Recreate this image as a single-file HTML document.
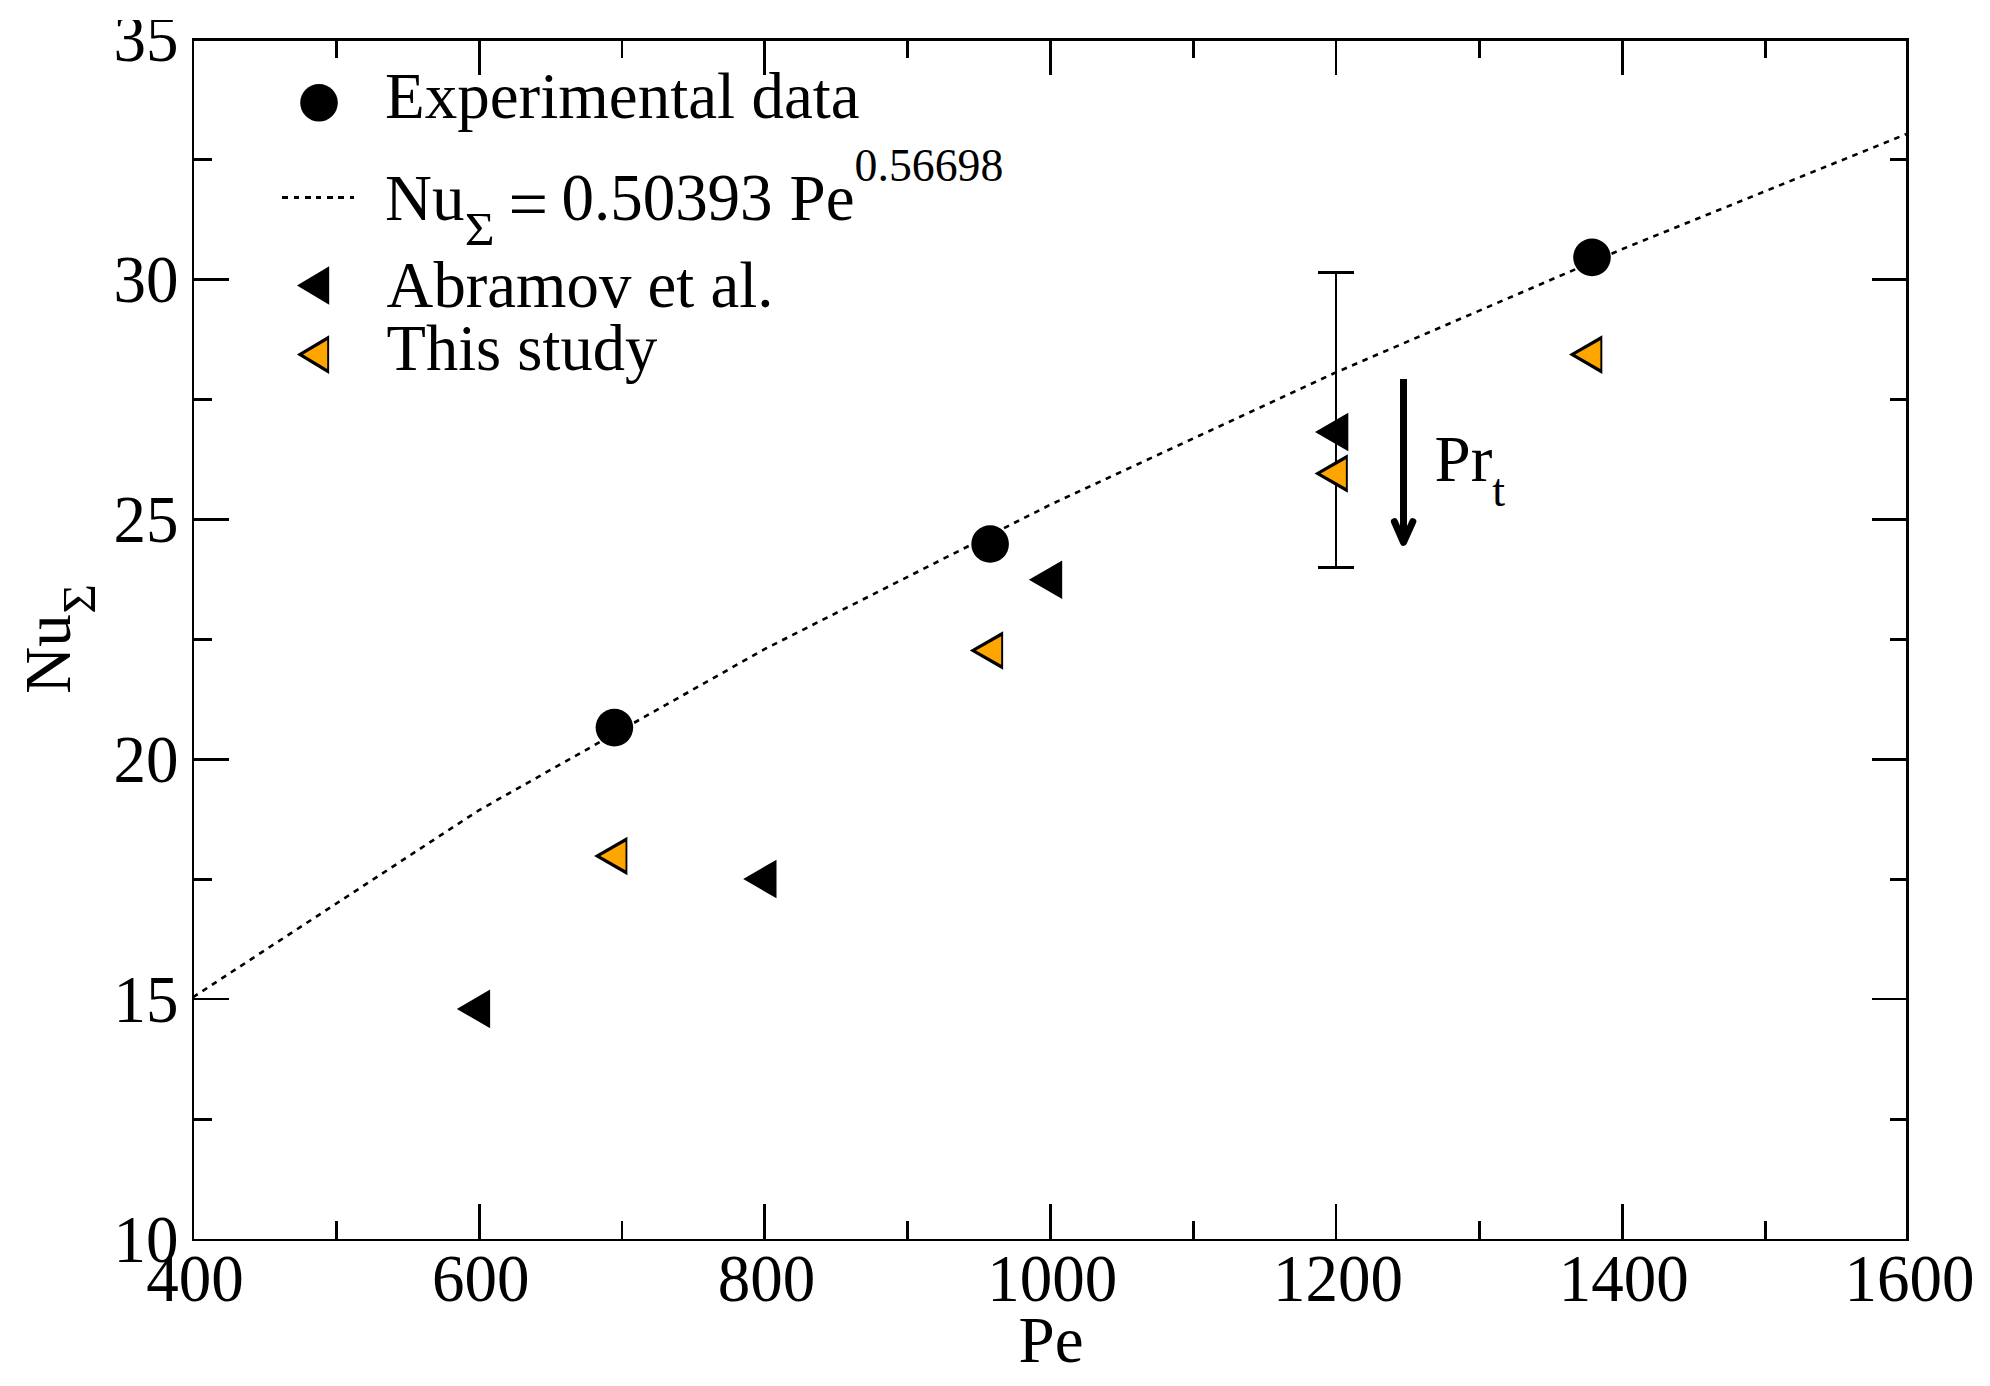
<!DOCTYPE html>
<html lang="en"><head><meta charset="utf-8"><title>Nu vs Pe</title>
<style>html,body{margin:0;padding:0;background:#fff}svg{display:block}text{font-family:"Liberation Serif", "DejaVu Serif", serif;fill:#000}</style>
</head><body>
<svg width="1990" height="1386" viewBox="0 0 1990 1386">
<rect x="0" y="0" width="1990" height="1386" fill="#fff"/>
<path d="M193.00 997.25 L478.75 810.39 L764.50 649.21 L1050.25 504.76 L1336.00 372.40 L1621.75 249.30 L1907.50 133.61" fill="none" stroke="#000" stroke-width="2.6" stroke-dasharray="5.6 5.7"/>
<g fill="#000" shape-rendering="crispEdges">
<rect x="192" y="38" width="2" height="1203"/>
<rect x="1906" y="38" width="3" height="1203"/>
<rect x="192" y="38" width="1717" height="3"/>
<rect x="192" y="1239" width="1717" height="2"/>
<rect x="335" y="1221" width="3" height="19"/>
<rect x="335" y="40" width="3" height="18"/>
<rect x="478" y="1204" width="3" height="36"/>
<rect x="478" y="40" width="3" height="35"/>
<rect x="621" y="1221" width="2" height="19"/>
<rect x="621" y="40" width="2" height="18"/>
<rect x="763" y="1204" width="3" height="36"/>
<rect x="763" y="40" width="3" height="35"/>
<rect x="906" y="1221" width="3" height="19"/>
<rect x="906" y="40" width="3" height="18"/>
<rect x="1049" y="1204" width="3" height="36"/>
<rect x="1049" y="40" width="3" height="35"/>
<rect x="1192" y="1221" width="3" height="19"/>
<rect x="1192" y="40" width="3" height="18"/>
<rect x="1335" y="1204" width="2" height="36"/>
<rect x="1335" y="40" width="2" height="35"/>
<rect x="1478" y="1221" width="3" height="19"/>
<rect x="1478" y="40" width="3" height="18"/>
<rect x="1621" y="1204" width="3" height="36"/>
<rect x="1621" y="40" width="3" height="35"/>
<rect x="1764" y="1221" width="3" height="19"/>
<rect x="1764" y="40" width="3" height="18"/>
<rect x="193" y="1118" width="19" height="3"/>
<rect x="1890" y="1118" width="17" height="3"/>
<rect x="193" y="998" width="36" height="2"/>
<rect x="1872" y="998" width="35" height="2"/>
<rect x="193" y="878" width="19" height="3"/>
<rect x="1890" y="878" width="17" height="3"/>
<rect x="193" y="758" width="36" height="3"/>
<rect x="1872" y="758" width="35" height="3"/>
<rect x="193" y="638" width="19" height="3"/>
<rect x="1890" y="638" width="17" height="3"/>
<rect x="193" y="518" width="36" height="3"/>
<rect x="1872" y="518" width="35" height="3"/>
<rect x="193" y="398" width="19" height="3"/>
<rect x="1890" y="398" width="17" height="3"/>
<rect x="193" y="278" width="36" height="3"/>
<rect x="1872" y="278" width="35" height="3"/>
<rect x="193" y="158" width="19" height="3"/>
<rect x="1890" y="158" width="17" height="3"/>
</g>
<g fill="#000" shape-rendering="crispEdges">
<rect x="1335" y="272" width="2" height="296"/>
<rect x="1318" y="271" width="36" height="3"/>
<rect x="1318" y="566" width="36" height="3"/>
</g>
<g>
<polygon points="456.80,1008.90 490.10,989.60 490.10,1028.20" fill="#000"/>
<polygon points="743.20,879.00 776.50,859.70 776.50,898.30" fill="#000"/>
<polygon points="1028.90,579.80 1062.20,560.50 1062.20,599.10" fill="#000"/>
<polygon points="1315.00,432.00 1348.30,412.70 1348.30,451.30" fill="#000"/>
<polygon points="594.10,856.00 627.40,836.70 627.40,875.30" fill="#000"/><polygon points="600.30,856.00 625.50,841.70 625.50,870.30" fill="#ffa500"/>
<polygon points="969.80,650.50 1003.10,631.20 1003.10,669.80" fill="#000"/><polygon points="976.00,650.50 1001.20,636.20 1001.20,664.80" fill="#ffa500"/>
<polygon points="1314.50,473.50 1347.80,454.20 1347.80,492.80" fill="#000"/><polygon points="1320.70,473.50 1345.90,459.20 1345.90,487.80" fill="#ffa500"/>
<polygon points="1569.00,354.60 1602.30,335.30 1602.30,373.90" fill="#000"/><polygon points="1575.20,354.60 1600.40,340.30 1600.40,368.90" fill="#ffa500"/>
<circle cx="614.40" cy="727.60" r="18.8" fill="#000"/>
<circle cx="990.10" cy="544.00" r="18.8" fill="#000"/>
<circle cx="1592.00" cy="257.40" r="18.8" fill="#000"/>
</g>
<g stroke="#000" fill="none" stroke-width="7">
<line x1="1403.5" y1="379" x2="1403.5" y2="542"/>
<polyline points="1394.4,521.6 1403.5,542.4 1412.8,521.6" stroke-linejoin="round" stroke-linecap="round"/>
</g>
<circle cx="319.00" cy="102.80" r="18.8" fill="#000"/>
<g fill="#000" shape-rendering="crispEdges"><rect x="282" y="196" width="6" height="3"/><rect x="294" y="196" width="5" height="3"/><rect x="305" y="196" width="6" height="3"/><rect x="316" y="196" width="5" height="3"/><rect x="327" y="196" width="6" height="3"/><rect x="338" y="196" width="6" height="3"/><rect x="350" y="196" width="4" height="3"/></g>
<polygon points="297.00,285.50 329.20,266.20 329.20,304.80" fill="#000"/>
<polygon points="296.90,354.60 329.10,335.30 329.10,373.90" fill="#000"/><polygon points="303.10,354.60 327.20,340.30 327.20,368.90" fill="#ffa500"/>
<text x="385.00" y="118.00" font-size="65.00" text-anchor="start">Experimental data</text>
<text x="385.00" y="219.60" font-size="65.00" text-anchor="start">Nu</text>
<text transform="translate(464.70,244.80) scale(1.1200,1.0000)" font-size="45.95" text-anchor="start">Σ</text>
<text transform="translate(508.40,227.70) scale(1.0800,1.0600)" font-size="65.00" text-anchor="start">=</text>
<text transform="translate(561.40,220.20) scale(1.0000,1.0460)" font-size="65.00" text-anchor="start">0.50393</text>
<text x="789.50" y="219.60" font-size="65.00" text-anchor="start">Pe</text>
<text transform="translate(854.60,181.30) scale(0.9960,1.0300)" font-size="45.95" text-anchor="start">0.56698</text>
<text transform="translate(386.60,306.50) scale(0.9970,1.0000)" font-size="65.00" text-anchor="start">Abramov et al.</text>
<text transform="translate(386.50,369.80) scale(0.9930,1.0000)" font-size="65.00" text-anchor="start">This study</text>
<text x="1434.5" y="480.7" font-size="65.00">Pr<tspan dy="25.5" font-size="45.95">t</tspan></text>
<text transform="translate(195.00,1301.20) scale(1.0000,1.0460)" font-size="65.00" text-anchor="middle">400</text>
<text transform="translate(480.75,1301.20) scale(1.0000,1.0460)" font-size="65.00" text-anchor="middle">600</text>
<text transform="translate(766.50,1301.20) scale(1.0000,1.0460)" font-size="65.00" text-anchor="middle">800</text>
<text transform="translate(1052.25,1301.20) scale(1.0000,1.0460)" font-size="65.00" text-anchor="middle">1000</text>
<text transform="translate(1338.00,1301.20) scale(1.0000,1.0460)" font-size="65.00" text-anchor="middle">1200</text>
<text transform="translate(1623.75,1301.20) scale(1.0000,1.0460)" font-size="65.00" text-anchor="middle">1400</text>
<text transform="translate(1909.50,1301.20) scale(1.0000,1.0460)" font-size="65.00" text-anchor="middle">1600</text>
<text transform="translate(178.60,1261.90) scale(1.0000,1.0460)" font-size="65.00" text-anchor="end">10</text>
<text transform="translate(178.60,1021.80) scale(1.0000,1.0460)" font-size="65.00" text-anchor="end">15</text>
<text transform="translate(178.60,781.70) scale(1.0000,1.0460)" font-size="65.00" text-anchor="end">20</text>
<text transform="translate(178.60,541.60) scale(1.0000,1.0460)" font-size="65.00" text-anchor="end">25</text>
<text transform="translate(178.60,301.50) scale(1.0000,1.0460)" font-size="65.00" text-anchor="end">30</text>
<text transform="translate(178.60,61.40) scale(1.0000,1.0460)" font-size="65.00" text-anchor="end">35</text>
<rect x="100" y="0" width="88" height="20" fill="#fff"/>
<text x="1051.00" y="1361.70" font-size="65.00" text-anchor="middle">Pe</text>
<text transform="translate(70.3,693.7) rotate(-90)" font-size="65.00">Nu</text>
<text transform="translate(95.2,613.8) rotate(-90) scale(1.12,1)" font-size="45.95">Σ</text>
</svg></body></html>
